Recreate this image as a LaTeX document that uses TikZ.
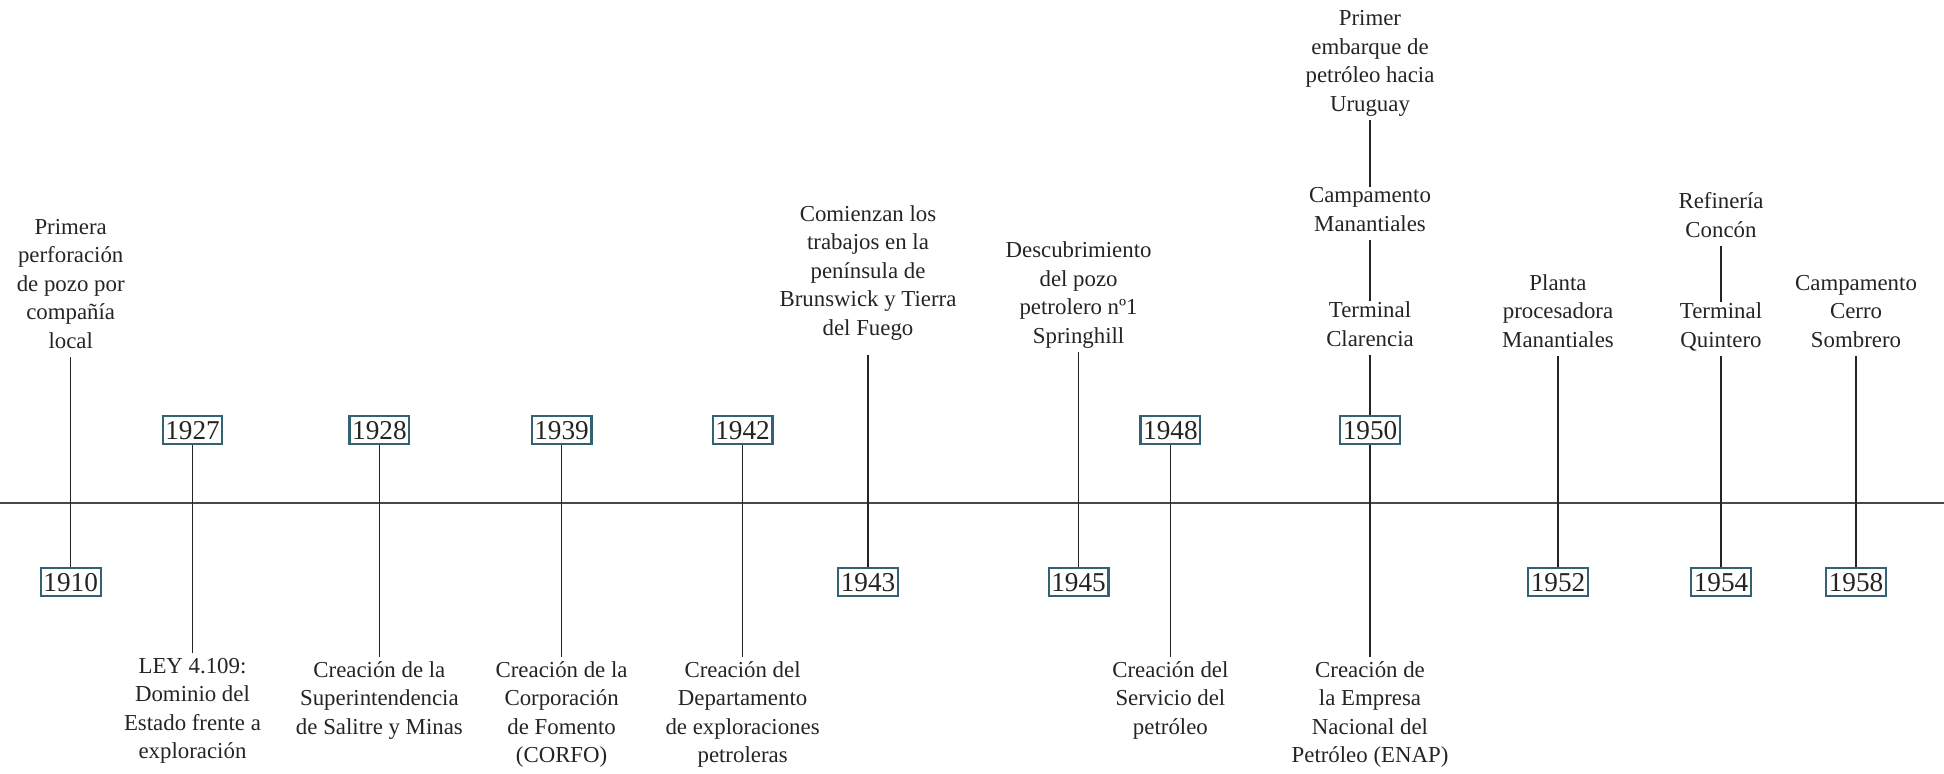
\documentclass[tikz,border=0pt]{standalone}
\usepackage{fontspec}
\setmainfont{Liberation Serif}
\definecolor{boxteal}{RGB}{52,98,117}
\definecolor{inkgray}{RGB}{36,36,36}
\definecolor{axisgray}{RGB}{72,72,72}

\begin{document}
\begin{tikzpicture}[x=0.02cm, y=-0.02cm,
  every node/.style={text=inkgray},
  year/.style={draw=boxteal, line width=1.2pt, fill=white, font=\rmfamily\fontsize{15.5}{18}\selectfont, text height=10.4pt, text depth=0pt, inner xsep=1.5pt, inner ysep=3pt},
  event/.style={align=center, inner sep=0pt, font=\rmfamily\fontsize{13}{16.2}\selectfont},
  above event/.style={event, anchor=south},
  below event/.style={event, anchor=north},
  stemline/.style={draw=inkgray, line width=0.9pt}]
\useasboundingbox (0,0) rectangle (1944,774);

% time axis
\draw[axisgray, line width=1.1pt] (0,503) -- (1944,503);

% Specification of nodes (position, etc.)
\node (y1910)   [year]          at (70.7,582)   {1910};
\node (y1927)   [year]          at (192.5,430)  {1927};
\node (y1928)   [year]          at (379.4,430)  {1928};
\node (y1939)   [year]          at (561.6,430)  {1939};
\node (y1942)   [year]          at (742.6,430)  {1942};
\node (y1943)   [year]          at (868,582)    {1943};
\node (y1945)   [year]          at (1078.6,582) {1945};
\node (y1948)   [year]          at (1170.4,430) {1948};
\node (y1950)   [year]          at (1370,430)   {1950};
\node (y1952)   [year]          at (1558,582)   {1952};
\node (y1954)   [year]          at (1721,582)   {1954};
\node (y1958)   [year]          at (1856,582)   {1958};

% events above the axis
\node (e1910)   [above event]   at (70.7,357)   {Primera\\perforación\\de pozo por\\compañía\\local\strut};
\node (e1943)   [above event]   at (868,344)    {Comienzan los\\trabajos en la\\península de\\Brunswick y Tierra\\del Fuego\strut};
\node (e1945)   [above event]   at (1078.6,352) {Descubrimiento\\del pozo\\petrolero nº1\\Springhill\strut};
\node (e1950c)  [above event]   at (1370,355)   {Terminal\\Clarencia\strut};
\node (e1950b)  [above event]   at (1370,240)   {Campamento\\Manantiales\strut};
\node (e1950a)  [above event]   at (1370,120)   {Primer\\embarque de\\petróleo hacia\\Uruguay\strut};
\node (e1952)   [above event]   at (1558,356)   {Planta\\procesadora\\Manantiales\strut};
\node (e1954b)  [above event]   at (1721,356)   {Terminal\\Quintero\strut};
\node (e1954a)  [above event]   at (1721,246)   {Refinería\\Concón\strut};
\node (e1958)   [above event]   at (1856,356)   {Campamento\\Cerro\\Sombrero\strut};

% events below the axis
\node (e1927)   [below event]   at (192.5,653)  {\strut LEY 4.109:\\Dominio del\\Estado frente a\\exploración};
\node (e1928)   [below event]   at (379.4,657)  {\strut Creación de la\\Superintendencia\\de Salitre y Minas};
\node (e1939)   [below event]   at (561.6,657)  {\strut Creación de la\\Corporación\\de Fomento\\(CORFO)};
\node (e1942)   [below event]   at (742.6,657)  {\strut Creación del\\Departamento\\de exploraciones\\petroleras};
\node (e1948)   [below event]   at (1170.4,657) {\strut Creación del\\Servicio del\\petróleo};
\node (e1950)   [below event]   at (1370,657)   {\strut Creación de\\la Empresa\\Nacional del\\Petróleo (ENAP)};

\draw[stemline]             (e1910.south) -- (y1910.north);
\draw[stemline, shorten <=0.21cm] (e1943.south) -- (y1943.north);
\draw[stemline]             (e1945.south) -- (y1945.north);
\draw[stemline]             (e1950a.south) -- (e1950b.north);
\draw[stemline]             (e1950b.south) -- (e1950c.north);
\draw[stemline]             (e1950c.south) -- (y1950.north);
\draw[stemline]             (e1952.south) -- (y1952.north);
\draw[stemline]             (e1954a.south) -- (e1954b.north);
\draw[stemline]             (e1954b.south) -- (y1954.north);
\draw[stemline]             (e1958.south) -- (y1958.north);

\draw[stemline]             (y1927.south) -- (e1927.north);
\draw[stemline]             (y1928.south) -- (e1928.north);
\draw[stemline]             (y1939.south) -- (e1939.north);
\draw[stemline]             (y1942.south) -- (e1942.north);
\draw[stemline]             (y1948.south) -- (e1948.north);
\draw[stemline]             (y1950.south) -- (e1950.north);

\end{tikzpicture}
\end{document}
